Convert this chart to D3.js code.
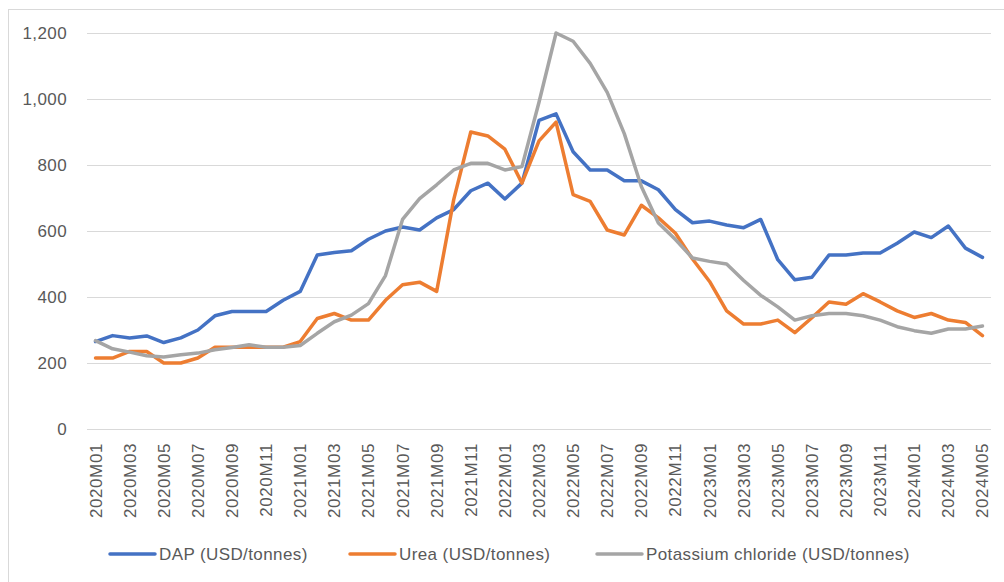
<!DOCTYPE html>
<html>
<head>
<meta charset="utf-8">
<script src="https://cdn.jsdelivr.net/npm/d3@7"></script>
<style>
  body { margin: 0; background: #fff; }
  text { font-family: "Liberation Sans", Arial, sans-serif; fill: #595959; }
</style>
</head>
<body>
<div id="chart"></div>
<script>
var months = [
  '2020M01','2020M02','2020M03','2020M04','2020M05','2020M06','2020M07','2020M08','2020M09','2020M10','2020M11','2020M12',
  '2021M01','2021M02','2021M03','2021M04','2021M05','2021M06','2021M07','2021M08','2021M09','2021M10','2021M11','2021M12',
  '2022M01','2022M02','2022M03','2022M04','2022M05','2022M06','2022M07','2022M08','2022M09','2022M10','2022M11','2022M12',
  '2023M01','2023M02','2023M03','2023M04','2023M05','2023M06','2023M07','2023M08','2023M09','2023M10','2023M11','2023M12',
  '2024M01','2024M02','2024M03','2024M04','2024M05'
];

var dap = [265, 283, 276, 282, 262, 276, 300, 343, 356, 356, 356, 390, 417, 527, 535, 540, 575, 600,
  612, 603, 640, 665, 722, 745, 697, 745, 935, 955, 840, 785, 785, 752, 752, 725, 665, 625,
  630, 618, 610, 635, 513, 452, 460, 527, 527, 533, 533, 563, 597, 580, 615, 548, 520];

var urea = [215, 215, 235, 235, 200, 200, 215, 248, 248, 248, 248, 248, 265, 335, 350, 330, 330, 390,
  437, 445, 417, 695, 900, 888, 848, 745, 873, 930, 710, 690, 603, 588, 678, 640, 593, 515,
  447, 358, 318, 318, 330, 292, 337, 385, 378, 410, 385, 358, 338, 350, 330, 323, 283];

var potash = [268, 243, 233, 222, 218, 225, 230, 240, 247, 255, 248, 248, 253, 290, 325, 345, 380, 465,
  635, 698, 740, 785, 805, 805, 785, 795, 990, 1200, 1175, 1108, 1020, 895, 735, 624, 574, 518,
  508, 500, 450, 405, 370, 330, 343, 350, 350, 343, 330, 310, 298, 290, 303, 303, 312];

var yTicks = [0, 200, 400, 600, 800, 1000, 1200];

var seriesNames = ['DAP (USD/tonnes)', 'Urea (USD/tonnes)', 'Potassium chloride (USD/tonnes)'];
var seriesColors = ['#4472C4', '#ED7D31', '#A5A5A5'];

drawChart();

function drawChart() {
  var w = 1004,
    h = 582;

  var svg = d3.select('#chart')
    .append('svg')
    .attr('width', w)
    .attr('height', h);

  // Chart border (runs off the right and bottom edge).
  svg.append('rect')
    .attr('x', 8.5)
    .attr('y', 9.5)
    .attr('width', 1010)
    .attr('height', 600)
    .style('fill', 'none')
    .style('stroke', '#d9d9d9');

  var x = d3.scalePoint()
    .domain(months)
    .range([87, 991])
    .padding(0.5);

  var y = d3.scaleLinear()
    .domain([0, 1200])
    .range([429, 33]);

  // Gridlines.
  svg.append('g')
    .selectAll('line')
    .data(yTicks)
    .join('line')
    .attr('x1', 87)
    .attr('x2', 991)
    .attr('y1', function (d) { return Math.round(y(d)) + 0.5; })
    .attr('y2', function (d) { return Math.round(y(d)) + 0.5; })
    .style('stroke', '#d9d9d9')
    .style('stroke-width', 1);

  // Y labels.
  svg.append('g')
    .selectAll('text')
    .data(yTicks)
    .join('text')
    .attr('x', 67)
    .attr('y', function (d) { return y(d); })
    .attr('dy', '0.35em')
    .attr('text-anchor', 'end')
    .style('font-size', '17px')
    .style('letter-spacing', '0.4px')
    .text(d3.format(','));

  // X labels, every second month.
  var xLabels = months.filter(function (d, i) { return i % 2 === 0; });
  svg.append('g')
    .selectAll('text')
    .data(xLabels)
    .join('text')
    .attr('transform', function (d) {
      return 'translate(' + (x(d) + 6) + ',443) rotate(-90)';
    })
    .attr('text-anchor', 'end')
    .style('font-size', '17px')
    .style('letter-spacing', '0.6px')
    .text(function (d) { return d; });

  // Lines.
  var line = d3.line()
    .x(function (d, i) { return x(months[i]); })
    .y(function (d) { return y(d); });

  [dap, urea, potash].forEach(function (s, k) {
    svg.append('path')
      .datum(s)
      .attr('d', line)
      .style('fill', 'none')
      .style('stroke', seriesColors[k])
      .style('stroke-width', 3.5)
      .style('stroke-linejoin', 'round')
      .style('stroke-linecap', 'round');
  });

  // Legend.
  var legendX = [110, 350, 597];
  var legend = svg.append('g');
  seriesNames.forEach(function (name, k) {
    legend.append('line')
      .attr('x1', legendX[k])
      .attr('x2', legendX[k] + 45)
      .attr('y1', 554)
      .attr('y2', 554)
      .style('stroke', seriesColors[k])
      .style('stroke-width', 3.5)
      .style('stroke-linecap', 'round');
    legend.append('text')
      .attr('x', legendX[k] + 49)
      .attr('y', 554)
      .attr('dy', '0.35em')
      .style('font-size', '17px')
      .style('letter-spacing', '0.4px')
      .text(name);
  });
}
</script>
</body>
</html>
